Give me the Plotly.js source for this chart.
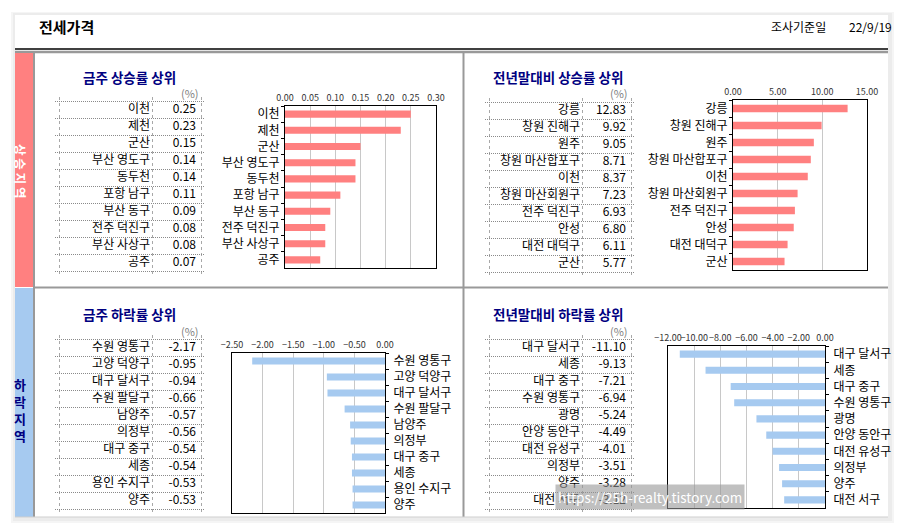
<!DOCTYPE html>
<html>
<head>
<meta charset="utf-8">
<script src="https://cdn.plot.ly/plotly-3.0.1.min.js"></script>
<style>html,body{margin:0;padding:0;background:#fff;}#chart{width:903px;height:532px;}</style>
</head>
<body>
<div id="chart"></div>
<script>
// ---- data ----
const wkUpNames = ['이천','제천','군산','부산 영도구','동두천','포항 남구','부산 동구','전주 덕진구','부산 사상구','공주'];
const wkUpVals = [0.25,0.23,0.15,0.14,0.14,0.11,0.09,0.08,0.08,0.07];
const ytdUpNames = ['강릉','창원 진해구','원주','창원 마산합포구','이천','창원 마산회원구','전주 덕진구','안성','대전 대덕구','군산'];
const ytdUpVals = [12.83,9.92,9.05,8.71,8.37,7.23,6.93,6.80,6.11,5.77];
const wkDownNames = ['수원 영통구','고양 덕양구','대구 달서구','수원 팔달구','남양주','의정부','대구 중구','세종','용인 수지구','양주'];
const wkDownVals = [-2.17,-0.95,-0.94,-0.66,-0.57,-0.56,-0.54,-0.54,-0.53,-0.53];
const ytdDownNames = ['대구 달서구','세종','대구 중구','수원 영통구','광명','안양 동안구','대전 유성구','의정부','양주','대전 서구'];
const ytdDownVals = [-11.10,-9.13,-7.21,-6.94,-5.24,-4.49,-4.01,-3.51,-3.28,-3.12];
const panelTitles = ['금주 상승률 상위','전년말대비 상승률 상위','금주 하락률 상위','전년말대비 하락률 상위'];
const headerTitle = '전세가격';
const dateLabel = '조사기준일';
const dateValue = '22/9/19';
const unitLabel = '(%)';
const watermark = 'https://25h-realty.tistory.com';

// ---- layout helpers (pixel -> paper) ----
const W = 903, H = 532;
const FONT = '"Noto Sans CJK KR", "Noto Sans", sans-serif';
const RED = '#FF8080', BLUE = '#A6CAF0', NAVY = '#000080';
function dx(a, b) { return [a / W, b / W]; }
function dy(t, b) { return [1 - b / H, 1 - t / H]; }
function px(x) { return x / W; }
function py(y) { return 1 - y / H; }

const traces = [];
const layout = {
  width: W, height: H,
  margin: {l: 0, r: 0, t: 0, b: 0},
  paper_bgcolor: '#ffffff',
  plot_bgcolor: 'rgba(0,0,0,0)',
  showlegend: false,
  bargap: 0.56,
  font: {family: FONT, size: 11, color: '#000'},
  shapes: [], annotations: []
};

// bar chart subplots
const charts = [
  {names: wkUpNames, vals: wkUpVals, color: RED, xd: dx(285, 436), yd: dy(106, 268), range: [0, 0.30], dtick: 0.05, side: 'left'},
  {names: ytdUpNames, vals: ytdUpVals, color: RED, xd: dx(733, 867), yd: dy(100, 270), range: [0, 15], dtick: 5, side: 'left'},
  {names: wkDownNames, vals: wkDownVals, color: BLUE, xd: dx(232, 385), yd: dy(353, 513), range: [-2.5, 0], dtick: 0.5, side: 'right'},
  {names: ytdDownNames, vals: ytdDownVals, color: BLUE, xd: dx(668, 825), yd: dy(346, 508), range: [-12, 0], dtick: 2, side: 'right'}
];
charts.forEach((c, i) => {
  const n = i + 1;
  const xa = 'x' + (n === 1 ? '' : n), ya = 'y' + (n === 1 ? '' : n);
  traces.push({type: 'bar', orientation: 'h', x: c.vals, y: c.names, xaxis: xa, yaxis: ya,
    marker: {color: c.color, line: {width: 0}}, hoverinfo: 'x+y'});
  layout['xaxis' + (n === 1 ? '' : n)] = {
    domain: c.xd, anchor: ya, side: 'top', range: c.range, dtick: c.dtick, tick0: 0, tickangle: 0,
    tickformat: '.2f', showgrid: true, gridcolor: '#c8c8c8', gridwidth: 1, zeroline: false,
    showline: true, linecolor: '#000', linewidth: 1, mirror: true, ticks: '',
    tickfont: {size: 9, color: '#333', family: FONT}, fixedrange: true
  };
  layout['yaxis' + (n === 1 ? '' : n)] = {
    domain: c.yd, anchor: xa, type: 'category', autorange: 'reversed', side: c.side,
    showgrid: false, zeroline: false, showline: true, linecolor: '#000', linewidth: 1, mirror: true,
    ticks: 'outside', ticklen: 3, tickcolor: '#000', tickson: 'boundaries',
    ticklabelstandoff: c.side === 'right' ? 5 : 2,
    tickfont: {size: 12, color: '#000', family: FONT}, fixedrange: true
  };
});

// table subplots (text on a grid whose dotted grid lines are the cell borders)
// axis units are pixels; domains padded by 4px so the outer borders are not at the plot edge
const tables = [
  {names: wkUpNames, vals: wkUpVals, left: 59, top: 101},
  {names: ytdUpNames, vals: ytdUpVals, left: 489, top: 102},
  {names: wkDownNames, vals: wkDownVals, left: 59, top: 339},
  {names: ytdDownNames, vals: ytdDownVals, left: 489, top: 339}
];
const TW = 142, TH = 170, COL = 93, PAD = 4;
tables.forEach((t, i) => {
  const n = i + 5;
  const xa = 'x' + n, ya = 'y' + n;
  const rows = t.names.map((_, k) => k + 0.5);
  traces.push({type: 'scatter', mode: 'text', x: t.names.map(() => COL - 2), y: rows, text: t.names,
    textposition: 'middle left', textfont: {size: 12, color: '#000', family: FONT},
    xaxis: xa, yaxis: ya, hoverinfo: 'skip'});
  traces.push({type: 'scatter', mode: 'text', x: t.vals.map(() => TW - 5), y: rows, text: t.vals.map(v => v.toFixed(2)),
    textposition: 'middle left', textfont: {size: 12, color: '#000', family: FONT},
    xaxis: xa, yaxis: ya, hoverinfo: 'skip'});
  const rowH = TH / 10;
  layout['xaxis' + n] = {domain: dx(t.left - PAD, t.left + TW + PAD), anchor: ya, type: 'linear', range: [-PAD, TW + PAD],
    tickmode: 'array', tickvals: [0, COL, TW],
    showticklabels: false, ticks: '', showgrid: true, gridcolor: '#a8a8a8', gridwidth: 1, griddash: 'dot',
    zeroline: false, showline: false, fixedrange: true};
  layout['yaxis' + n] = {domain: dy(t.top - PAD, t.top + TH + PAD), anchor: xa, type: 'linear',
    range: [10 + PAD / rowH, -PAD / rowH],
    tickmode: 'array', tickvals: [0,1,2,3,4,5,6,7,8,9,10],
    showticklabels: false, ticks: '', showgrid: true, gridcolor: '#8a8a8a', gridwidth: 1, griddash: '1px,1px',
    zeroline: false, showline: false, fixedrange: true};
});

// ---- background shapes ----
function rect(x0, y0, x1, y1, fill) {
  layout.shapes.push({type: 'rect', xref: 'paper', yref: 'paper', x0: px(x0), x1: px(x1), y0: py(y1), y1: py(y0),
    fillcolor: fill, line: {width: 0}, layer: 'below'});
}
function line(x0, y0, x1, y1, color, w) {
  layout.shapes.push({type: 'line', xref: 'paper', yref: 'paper', x0: px(x0), x1: px(x1), y0: py(y0), y1: py(y1),
    line: {color: color, width: w}, layer: 'below'});
}
rect(11, 12, 894, 523, '#f5f5f5');
rect(13, 13, 892, 521, '#ececec');
rect(15, 15, 888, 517, '#ffffff');
line(15, 49, 888, 49, '#000', 1.5);
line(15, 52, 888, 52, '#999', 2.5);
rect(15, 53, 33, 287, RED);
rect(15, 288, 33, 517, BLUE);
line(34, 53, 34, 517, '#999', 2);
line(34, 287.5, 888, 287.5, '#999', 2);
line(463.5, 53, 463.5, 517, '#999', 2);
line(15, 517, 888, 517, '#cfcfcf', 1);

// ---- annotations ----
function ann(text, x, y, opts) {
  layout.annotations.push(Object.assign({xref: 'paper', yref: 'paper', x: px(x), y: py(y), text: text,
    showarrow: false, xanchor: 'left', yanchor: 'middle', font: {family: FONT, size: 12, color: '#000'}}, opts || {}));
}
ann(headerTitle, 37, 27, {font: {family: FONT, size: 15, color: '#000', weight: 'bold'}});
ann(dateLabel, 769, 27, {font: {family: FONT, size: 12, color: '#000'}});
ann(dateValue, 847, 27, {font: {family: FONT, size: 12, color: '#000'}});
ann('<b>' + panelTitles[0] + '</b>', 81, 77, {font: {family: FONT, size: 13.5, color: NAVY}});
ann('<b>' + panelTitles[1] + '</b>', 491, 77, {font: {family: FONT, size: 13.5, color: NAVY}});
ann('<b>' + panelTitles[2] + '</b>', 81, 314, {font: {family: FONT, size: 13.5, color: NAVY}});
ann('<b>' + panelTitles[3] + '</b>', 491, 314, {font: {family: FONT, size: 13.5, color: NAVY}});
[[190, 93], [619, 93], [190, 331], [619, 331]].forEach(p =>
  ann(unitLabel, p[0], p[1], {xanchor: 'center', font: {family: FONT, size: 11, color: '#808080'}}));
ann('<b>상 승 지 역</b>', 20, 171, {xanchor: 'center', textangle: 90, font: {family: FONT, size: 12.5, color: '#fff'}});
ann('<b>하<br>락<br>지<br>역</b>', 20, 410, {xanchor: 'center', font: {family: FONT, size: 13, color: NAVY}});
ann(watermark, 650, 497, {xanchor: 'center', bgcolor: 'rgba(150,150,150,0.6)', borderpad: 2,
  font: {family: FONT, size: 13.5, color: '#fff'}});

Plotly.newPlot('chart', traces, layout, {displayModeBar: false, staticPlot: true});
</script>
</body>
</html>
